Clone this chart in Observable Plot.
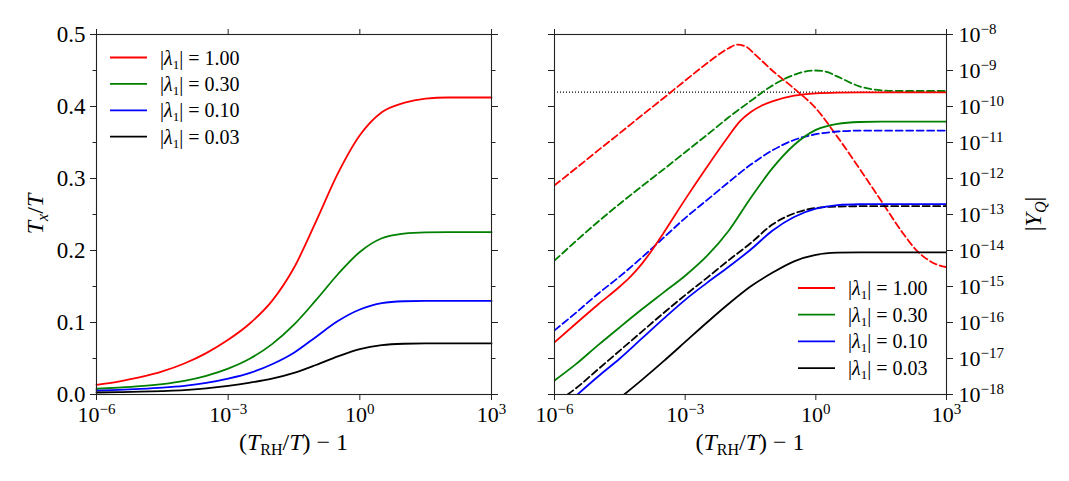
<!DOCTYPE html>
<html>
<head>
<meta charset="utf-8">
<script src="https://cdn.jsdelivr.net/npm/d3@7"></script>
<script src="https://cdn.jsdelivr.net/npm/@observablehq/plot@0.6"></script>
<style>
  html, body { margin: 0; padding: 0; background: #fff; }
  #wrap { position: relative; width: 1069px; height: 481px; overflow: hidden; font-family: "Liberation Serif", serif; }
  #left, #right { position: absolute; top: 0; }
  #left { left: 0; }
  #right { left: 534px; }
  svg { overflow: visible; }
</style>
</head>
<body>
<div id="wrap"><div id="left"></div><div id="right"></div></div>
<script>
// ---------- data ----------
const lambdaLabels = ["1.00", "0.30", "0.10", "0.03"];
const seriesColors = ["#ff0000", "#008000", "#0000ff", "#000000"];

const xTickValues = [1e-6, 1e-3, 1, 1e3];
const leftYTicks = [0, 0.1, 0.2, 0.3, 0.4, 0.5];
const leftYMinorTicks = [0.05, 0.15, 0.25, 0.35, 0.45];
const rightYTicks = [1e-18, 1e-17, 1e-16, 1e-15, 1e-14, 1e-13, 1e-12, 1e-11, 1e-10, 1e-9, 1e-8];

// Left panel: x = log10((T_RH/T) - 1), y = T_x/T
const txLogX = [-6, -5.5, -5, -4.5, -4, -3.5, -3, -2.5, -2, -1.5, -1, -0.5, 0, 0.5, 1, 1.5, 2, 3];
const txVal_100 = [0.0134, 0.018, 0.024, 0.032, 0.043, 0.0575, 0.076, 0.099, 0.130, 0.176, 0.240, 0.307, 0.360, 0.392, 0.405, 0.411, 0.4125, 0.4125];
const txVal_030 = [0.008, 0.0095, 0.0115, 0.0145, 0.019, 0.026, 0.036, 0.050, 0.070, 0.097, 0.131, 0.167, 0.198, 0.217, 0.2235, 0.2252, 0.2255, 0.2255];
const txVal_010 = [0.0055, 0.0065, 0.0078, 0.0095, 0.012, 0.016, 0.022, 0.030, 0.042, 0.058, 0.080, 0.102, 0.118, 0.127, 0.1295, 0.130, 0.130, 0.130];
const txVal_003 = [0.0028, 0.0033, 0.0039, 0.0048, 0.006, 0.0085, 0.012, 0.0165, 0.022, 0.030, 0.041, 0.053, 0.063, 0.0685, 0.0705, 0.071, 0.071, 0.071];

// Right panel: x = log10((T_RH/T) - 1), y = log10|Y_Q|  (solid and dashed curves)
const yqSolidLogX_100 = [-6, -5.5, -5, -4.5, -4.25, -4, -3.75, -3.5, -3, -2.5, -2, -1.75, -1.5, -1.25, -1, -0.5, 0, 0.5, 1, 3];
const yqSolidLog_100  = [-16.55, -16.02, -15.5, -15.0, -14.72, -14.38, -13.97, -13.52, -12.58, -11.68, -10.82, -10.42, -10.16, -9.98, -9.86, -9.70, -9.635, -9.615, -9.61, -9.61];
const yqDashLogX_100  = [-6, -5.5, -5, -4.5, -4, -3.5, -3, -2.5, -2.2, -2, -1.8, -1.6, -1.4, -1, -0.5, 0, 0.5, 1, 1.5, 2, 2.3, 2.6, 2.85, 3];
const yqDashLog_100   = [-12.19, -11.71, -11.22, -10.74, -10.25, -9.77, -9.28, -8.80, -8.53, -8.38, -8.28, -8.34, -8.55, -9.0, -9.5, -10.05, -10.85, -11.72, -12.62, -13.52, -13.98, -14.28, -14.42, -14.46];

const yqSolidLogX_030 = [-6, -5.5, -5, -4.5, -4, -3.5, -3, -2.5, -2, -1.5, -1, -0.5, 0, 0.5, 1, 1.5, 3];
const yqSolidLog_030  = [-17.61, -17.15, -16.63, -16.13, -15.64, -15.17, -14.7, -14.15, -13.45, -12.55, -11.72, -11.07, -10.65, -10.48, -10.43, -10.42, -10.42];
const yqDashLogX_030  = [-6, -5.5, -5, -4.5, -4, -3.5, -3, -2.5, -2, -1.5, -1, -0.5, -0.25, 0, 0.25, 0.5, 1, 1.5, 2, 3];
const yqDashLog_030   = [-14.28, -13.73, -13.2, -12.7, -12.22, -11.75, -11.27, -10.79, -10.3, -9.85, -9.42, -9.12, -9.03, -9.0, -9.04, -9.17, -9.44, -9.55, -9.57, -9.57];

const yqSolidLogX_010 = [-5.5, -5, -4.5, -4, -3.5, -3, -2.5, -2, -1.5, -1, -0.5, 0, 0.5, 1, 1.5, 3];
const yqSolidLog_010  = [-18.03, -17.5, -17.0, -16.45, -15.9, -15.37, -14.9, -14.45, -13.98, -13.45, -13.07, -12.84, -12.74, -12.715, -12.71, -12.71];
const yqDashLogX_010  = [-6, -5.5, -5, -4.5, -4, -3.5, -3, -2.5, -2, -1.5, -1, -0.5, 0, 0.5, 1, 3];
const yqDashLog_010   = [-16.22, -15.72, -15.2, -14.72, -14.2, -13.65, -13.1, -12.6, -12.1, -11.62, -11.22, -10.93, -10.77, -10.695, -10.67, -10.67];

const yqSolidLogX_003 = [-4.4, -4, -3.5, -3, -2.5, -2, -1.5, -1, -0.5, 0, 0.5, 1, 3];
const yqSolidLog_003  = [-18, -17.6, -17.08, -16.54, -16.0, -15.48, -15.0, -14.62, -14.3, -14.12, -14.06, -14.05, -14.05];
const yqDashLogX_003  = [-5.7, -5.5, -5, -4.5, -4, -3.5, -3, -2.5, -2, -1.5, -1, -0.5, 0, 0.5, 1, 3];
const yqDashLog_003   = [-18.0, -17.82, -17.3, -16.78, -16.26, -15.74, -15.24, -14.76, -14.27, -13.8, -13.28, -12.97, -12.82, -12.78, -12.77, -12.77];

const yqObservedLog = -9.60; // dotted reference level

// ---------- helpers ----------
const rowsLin = (lx, v) => lx.map((l, i) => ({x: Math.pow(10, l), y: v[i]}));
const rowsLog = (lx, v) => lx.map((l, i) => ({x: Math.pow(10, l), y: Math.pow(10, v[i])}));
const fmtPow = d => "10^" + Math.round(Math.log10(d));
const FONT = "Liberation Serif, serif";
const AXIS = "#222";
const LW = 1.8;

const leftSeries = [
  rowsLin(txLogX, txVal_100), rowsLin(txLogX, txVal_030),
  rowsLin(txLogX, txVal_010), rowsLin(txLogX, txVal_003)
];
const rightSolid = [
  rowsLog(yqSolidLogX_100, yqSolidLog_100), rowsLog(yqSolidLogX_030, yqSolidLog_030),
  rowsLog(yqSolidLogX_010, yqSolidLog_010), rowsLog(yqSolidLogX_003, yqSolidLog_003)
];
const rightDash = [
  rowsLog(yqDashLogX_100, yqDashLog_100), rowsLog(yqDashLogX_030, yqDashLog_030),
  rowsLog(yqDashLogX_010, yqDashLog_010), rowsLog(yqDashLogX_003, yqDashLog_003)
];

function superscriptify(svg) {
  d3.select(svg).selectAll("text").each(function () {
    const m = /^10\^(-?\d+)$/.exec(this.textContent);
    if (!m) return;
    const t = d3.select(this);
    t.text(null);
    t.append("tspan").text("10");
    t.append("tspan").attr("dy", "-8").attr("font-size", "15px").text(m[1].replace("-", "\u2212"));
  });
}

function addLegend(svg, x0, y0, dy) {
  const g = d3.select(svg).append("g").attr("font-family", FONT).attr("font-size", "20px").attr("text-anchor", "start");
  lambdaLabels.forEach((lab, i) => {
    const y = y0 + i * dy;
    g.append("line").attr("x1", x0).attr("x2", x0 + 37).attr("y1", y).attr("y2", y)
      .attr("stroke", seriesColors[i]).attr("stroke-width", LW);
    const t = g.append("text").attr("x", x0 + 50).attr("y", y).attr("dy", "0.35em").attr("fill", "#000").attr("text-anchor", "start");
    t.append("tspan").text("|");
    t.append("tspan").attr("font-style", "italic").text("\u03bb");
    t.append("tspan").attr("font-size", "13px").attr("dy", "4").text("1");
    t.append("tspan").attr("dy", "-4").text("| = " + lab);
  });
}

function addXLabel(svg, cx, y) {
  const t = d3.select(svg).append("text").attr("x", cx).attr("y", y)
    .attr("text-anchor", "middle").attr("font-family", FONT).attr("font-size", "24px").attr("fill", "#000");
  t.append("tspan").text("(");
  t.append("tspan").attr("font-style", "italic").text("T");
  t.append("tspan").attr("font-size", "16px").attr("dy", "5").text("RH");
  t.append("tspan").attr("dy", "-5").text("/");
  t.append("tspan").attr("font-style", "italic").text("T");
  t.append("tspan").text(") \u2212 1");
}

// ---------- left panel ----------
const leftMarks = [];
leftSeries.forEach((data, i) => {
  leftMarks.push(Plot.line(data, {x: "x", y: "y", stroke: seriesColors[i], strokeWidth: LW, curve: "monotone-x"}));
});
const left = Plot.plot({
  width: 534, height: 481,
  marginLeft: 96, marginRight: 43, marginTop: 34, marginBottom: 87,
  style: {fontFamily: FONT, fontSize: "23px", background: "transparent", color: "#000", overflow: "visible"},
  x: {type: "log", domain: [1e-6, 1e3]},
  y: {domain: [0, 0.5]},
  marks: [
    ...leftMarks,
    Plot.frame({stroke: AXIS, strokeWidth: 1.1}),
    Plot.axisX({anchor: "bottom", ticks: xTickValues, tickFormat: fmtPow, tickSize: 6, tickPadding: 6, fontSize: 22, label: null, stroke: AXIS, fill: "#000"}),
    Plot.axisX({anchor: "top", ticks: xTickValues, tickFormat: () => "", tickSize: 6, label: null, stroke: AXIS}),
    Plot.axisY({anchor: "left", ticks: leftYTicks, tickFormat: d => d.toFixed(1), tickSize: 6, tickPadding: 5, fontSize: 23, label: null, stroke: AXIS, fill: "#000"}),
    Plot.axisY({anchor: "left", ticks: leftYMinorTicks, tickFormat: () => "", tickSize: 3.5, label: null, stroke: AXIS}),
    Plot.axisY({anchor: "right", ticks: leftYTicks, tickFormat: () => "", tickSize: 6, label: null, stroke: AXIS}),
    Plot.axisY({anchor: "right", ticks: leftYMinorTicks, tickFormat: () => "", tickSize: 3.5, label: null, stroke: AXIS})
  ]
});
superscriptify(left);
addLegend(left, 110, 57.5, 26.4);
addXLabel(left, 293.5, 450);
{
  const t = d3.select(left).append("text").attr("transform", "translate(43,214) rotate(-90)")
    .attr("text-anchor", "middle").attr("font-family", FONT).attr("font-size", "24px").attr("fill", "#000");
  t.append("tspan").attr("font-style", "italic").text("T");
  t.append("tspan").attr("font-style", "italic").attr("font-size", "16px").attr("dy", "5").text("x");
  t.append("tspan").attr("dy", "-5").text("/");
  t.append("tspan").attr("font-style", "italic").text("T");
}
document.getElementById("left").appendChild(left);

// ---------- right panel ----------
const rightMarks = [
  Plot.ruleY([Math.pow(10, yqObservedLog)], {stroke: "#000", strokeWidth: 1.1, strokeDasharray: "1,2"})
];
rightDash.forEach((data, i) => {
  rightMarks.push(Plot.line(data, {x: "x", y: "y", stroke: seriesColors[i], strokeWidth: LW, strokeDasharray: "7,3.5", curve: "monotone-x"}));
});
rightSolid.forEach((data, i) => {
  rightMarks.push(Plot.line(data, {x: "x", y: "y", stroke: seriesColors[i], strokeWidth: LW, curve: "monotone-x"}));
});
const right = Plot.plot({
  width: 535, height: 481,
  marginLeft: 20, marginRight: 123, marginTop: 34, marginBottom: 87,
  style: {fontFamily: FONT, fontSize: "22px", background: "transparent", color: "#000", overflow: "visible"},
  x: {type: "log", domain: [1e-6, 1e3]},
  y: {type: "log", domain: [1e-18, 1e-8]},
  clip: true,
  marks: [
    ...rightMarks,
    Plot.frame({stroke: AXIS, strokeWidth: 1.1, clip: false}),
    Plot.axisX({anchor: "bottom", ticks: xTickValues, tickFormat: fmtPow, tickSize: 6, tickPadding: 6, fontSize: 22, label: null, stroke: AXIS, fill: "#000"}),
    Plot.axisX({anchor: "top", ticks: xTickValues, tickFormat: () => "", tickSize: 6, label: null, stroke: AXIS}),
    Plot.axisY({anchor: "right", ticks: rightYTicks, tickFormat: fmtPow, tickSize: 6, tickPadding: 6, fontSize: 22, label: null, stroke: AXIS, fill: "#000"}),
    Plot.axisY({anchor: "left", ticks: rightYTicks, tickFormat: () => "", tickSize: 6, label: null, stroke: AXIS})
  ]
});
superscriptify(right);
addLegend(right, 798 - 534, 288, 26.7);
addXLabel(right, 750 - 534, 450);
{
  const t = d3.select(right).append("text").attr("transform", `translate(${1041 - 534},214) rotate(-90)`)
    .attr("text-anchor", "middle").attr("font-family", FONT).attr("font-size", "24px").attr("fill", "#000");
  t.append("tspan").text("|");
  t.append("tspan").attr("font-style", "italic").text("Y");
  t.append("tspan").attr("font-style", "italic").attr("font-size", "16px").attr("dy", "5").text("Q");
  t.append("tspan").attr("dy", "-5").text("|");
}
document.getElementById("right").appendChild(right);
</script>
</body>
</html>
